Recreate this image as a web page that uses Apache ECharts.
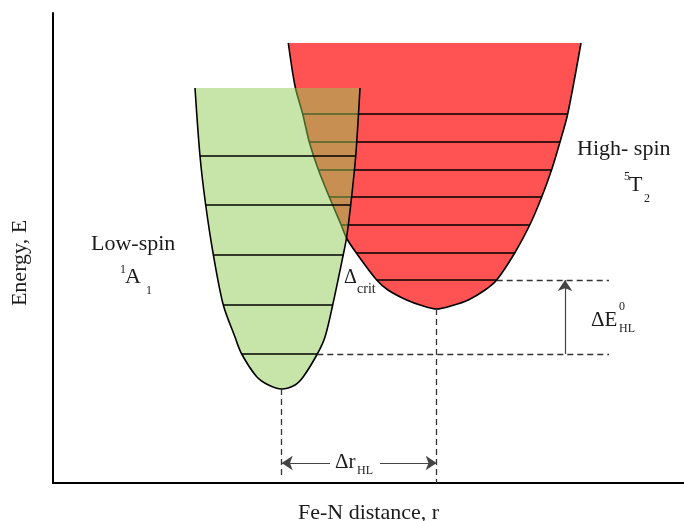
<!DOCTYPE html>
<html><head><meta charset="utf-8">
<script src="https://cdn.jsdelivr.net/npm/echarts@6/dist/echarts.min.js"></script>
<style>html,body{margin:0;padding:0;background:#fff}#c{width:684px;height:521px}</style>
</head><body><div id="c"></div>
<script>
// Arbitrary units: x = Fe-N distance r, y = energy E
// Low-spin (1A1) well
const lsTopE = 395, lsTopLeft = 142, lsTopRight = 307;
const lsLevelE = [327, 278, 228.5, 178, 129];
const lsLevelLeft = [147, 152.7, 160.3, 170.3, 188.7];
const lsLevelRight = [302.7, 297.7, 290.3, 279.7, 264.3];
const lsMin = [228.7, 94];
const lsOtherPts = [[182, 146], [272, 146], [203.7, 106.3], [250.3, 106.3], [215.5, 98], [242, 98], [293.5, 245]];
// High-spin (5T2) well
const hsTopE = 440, hsTopLeft = 235.3, hsTopRight = 528;
const hsLevelE = [369, 341, 313.5, 286, 258.5, 230.5, 203];
const hsLevelLeft = [249.7, 256.3, 265.3, 276.3, 288, 303, 323.7];
const hsLevelRight = [514.7, 507, 498.7, 488.7, 477, 462, 443.7];
const hsMin = [383.7, 174];
const hsOtherPts = [[242, 397], [293.5, 245], [335, 193], [353.7, 183], [368.7, 177.5], [399.5, 177.5], [415.3, 183], [432, 193]];
// Annotation texts
const annoText = ['High- spin', '5', 'T', '2', 'Low-spin', '1', 'A', '1', 'Δ', 'crit', 'ΔE', '0', 'HL', 'Δr', 'HL'];
const annoPos = [[524, 334], [571, 306.5], [576, 297.7], [591, 284], [38, 239], [67, 213], [72, 205.5], [93, 192],
  [291, 205], [304, 194], [538, 163], [566, 176], [566, 154], [282, 20.3], [304, 12.5]];
const annoSize = [22, 12, 22, 12, 22, 12, 22, 12, 20, 14, 21, 12, 12, 21, 12];

function wellCurve(topE, topL, topR, levE, levL, levR, min, others) {
  const pts = [[topL, topE], [topR, topE], min].concat(others);
  levE.forEach((e, i) => { pts.push([levL[i], e]); pts.push([levR[i], e]); });
  pts.sort((a, b) => a[0] - b[0]);
  return pts;
}
function levelLines(levE, levL, levR) {
  return levE.map((e, i) => ({ coords: [[levL[i], e], [levR[i], e]] }));
}
const lsCurve = wellCurve(lsTopE, lsTopLeft, lsTopRight, lsLevelE, lsLevelLeft, lsLevelRight, lsMin, lsOtherPts);
const hsCurve = wellCurve(hsTopE, hsTopLeft, hsTopRight, hsLevelE, hsLevelLeft, hsLevelRight, hsMin, hsOtherPts);

const arrowE = 20, guideEnd = 8, guideRight = 556, arrowX = 512;
const dashed = { color: '#333', width: 1.3, type: [6, 4], opacity: 1 };

const chart = echarts.init(document.getElementById('c'));
chart.setOption({
  animation: false,
  backgroundColor: '#fff',
  grid: { left: 53, right: 0, top: 13, bottom: 38, outerBoundsMode: 'none', containLabel: false },
  xAxis: {
    type: 'value', min: 0, max: 631,
    axisLine: { show: true, lineStyle: { color: '#000', width: 2 } },
    axisTick: { show: false }, axisLabel: { show: false }, splitLine: { show: false },
    name: 'Fe-N distance, r', nameLocation: 'middle', nameGap: 19,
    nameTextStyle: { fontFamily: 'Liberation Serif', fontSize: 22, color: '#1a1a1a' }
  },
  yAxis: {
    type: 'value', min: 0, max: 470,
    axisLine: { show: true, lineStyle: { color: '#000', width: 2 } },
    axisTick: { show: false }, axisLabel: { show: false }, splitLine: { show: false },
    name: 'Energy, E', nameLocation: 'middle', nameGap: 22,
    nameTextStyle: { fontFamily: 'Liberation Serif', fontSize: 22, color: '#1a1a1a', padding: [0, 30, 0, 0] }
  },
  series: [
    { type: 'line', data: hsCurve, smooth: 0.3, showSymbol: false, silent: true, z: 1,
      lineStyle: { color: '#000', width: 1.6 },
      areaStyle: { color: '#ff5252', opacity: 1, origin: hsTopE } },
    { type: 'lines', coordinateSystem: 'cartesian2d', silent: true, z: 2,
      data: levelLines(hsLevelE, hsLevelLeft, hsLevelRight),
      lineStyle: { color: '#000', width: 1.6, opacity: 1 } },
    { type: 'line', data: lsCurve, smooth: 0.3, showSymbol: false, silent: true, z: 3,
      lineStyle: { color: '#000', width: 1.6 },
      areaStyle: { color: 'rgb(143,204,82)', opacity: 0.5, origin: lsTopE } },
    { type: 'lines', coordinateSystem: 'cartesian2d', silent: true, z: 4,
      data: levelLines(lsLevelE, lsLevelLeft, lsLevelRight),
      lineStyle: { color: '#000', width: 1.6, opacity: 1 } },
    { type: 'lines', coordinateSystem: 'cartesian2d', silent: true, z: 5,
      data: [
        { coords: [[lsMin[0], lsMin[1]], [lsMin[0], guideEnd]] },
        { coords: [[hsMin[0], hsMin[1]], [hsMin[0], 0]] },
        { coords: [[hsLevelRight[6], hsLevelE[6]], [guideRight, hsLevelE[6]]] },
        { coords: [[lsLevelRight[4], lsLevelE[4]], [guideRight, lsLevelE[4]]] }
      ],
      lineStyle: dashed },
    { type: 'lines', coordinateSystem: 'cartesian2d', silent: true, z: 6,
      symbol: ['none', 'arrow'], symbolSize: [8, 11],
      data: [
        { coords: [[arrowX, lsLevelE[4]], [arrowX, hsLevelE[6]]] },
        { coords: [[277, arrowE], [lsMin[0], arrowE]] },
        { coords: [[327, arrowE], [hsMin[0], arrowE]] }
      ],
      lineStyle: { color: '#444', width: 1.2, opacity: 1 },
      itemStyle: { color: '#111' } },
    { type: 'custom', coordinateSystem: 'cartesian2d', silent: true, clip: false, z: 7,
      data: annoPos,
      renderItem: function (params, api) {
        const i = params.dataIndex;
        const p = api.coord([api.value(0), api.value(1)]);
        return { type: 'text', x: p[0], y: p[1],
          style: { text: annoText[i], fontSize: annoSize[i], fontFamily: 'Liberation Serif',
            fill: '#1a1a1a', align: 'left', verticalAlign: 'middle' } };
      } }
  ]
});
</script></body></html>
